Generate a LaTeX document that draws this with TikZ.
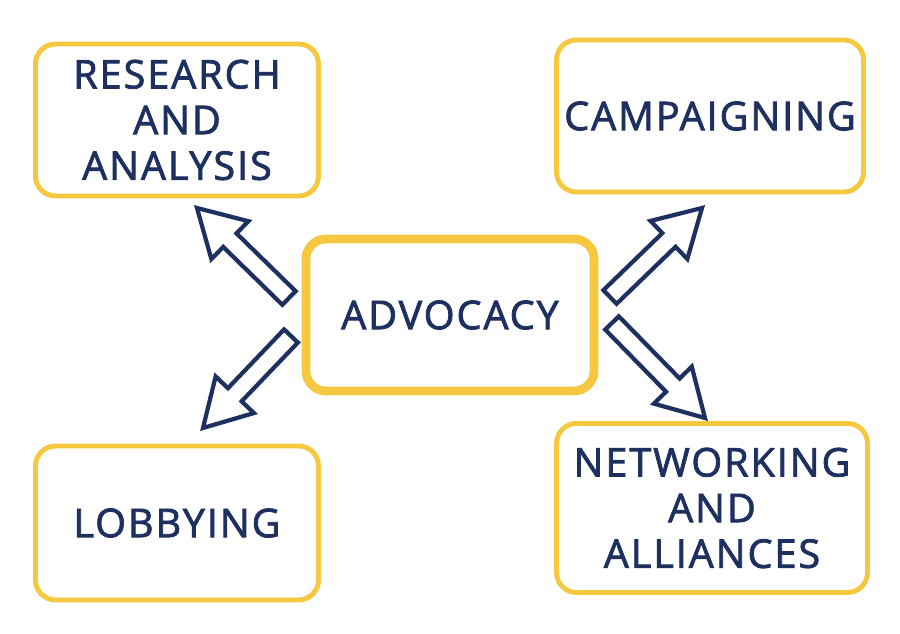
\documentclass[tikz,border=0pt]{standalone}
\usepackage{fontspec}
\setmainfont{Open Sans}[LetterSpace=5,FakeBold=2]
\usetikzlibrary{calc}
\definecolor{navy}{RGB}{30,48,96}
\definecolor{gold}{RGB}{246,200,64}
\tikzset{
box/.style={rectangle,draw=gold,line width=2.8pt,rounded corners=0.4cm,
  align=center,text=navy,font=\fontsize{22.5}{26}\selectfont,inner sep=0pt},
hub/.style={box,line width=5pt},
hollow/.style={draw=navy,line width=2.4pt,line join=miter,fill=white},
}
% hollow block arrow from #1 (tail) to #2 (tip)
\newcommand\hollowarrow[2]{%
  \coordinate (hb) at ($(#2)!0.92cm!(#1)$);
  \draw[hollow] ($(#1)!0.19cm!90:(#2)$) -- ($(hb)!0.19cm!-90:(#1)$)
    -- ($(hb)!0.53cm!-90:(#1)$) -- (#2) -- ($(hb)!0.53cm!90:(#1)$)
    -- ($(hb)!0.19cm!90:(#1)$) -- ($(#1)!0.19cm!-90:(#2)$) -- cycle;}

\begin{document}
\begin{tikzpicture}
	\useasboundingbox (0,0) rectangle (18,12.68);

	\node[hub,minimum width=5.76cm,minimum height=3.04cm] (adv) at (9,6.38) {ADVOCACY};
	\node[box,minimum width=5.66cm,minimum height=3.04cm] (res) at (3.54,10.28) {RESEARCH\\AND\\ANALYSIS};
	\node[box,minimum width=6.14cm,minimum height=3.04cm] (cam) at (14.2,10.36) {CAMPAIGNING};
	\node[box,minimum width=5.66cm,minimum height=3.08cm] (lob) at (3.54,2.22) {LOBBYING};
	\node[box,minimum width=6.22cm,minimum height=3.38cm] (net) at (14.24,2.52) {NETWORKING\\AND\\ALLIANCES};

	% arrow ends
	\coordinate (resT) at (5.78,6.72);
	\coordinate (resH) at (3.94,8.52);
	\coordinate (lobT) at (5.82,5.96);
	\coordinate (lobH) at (4.06,4.12);
	\coordinate (camT) at (12.2,6.74);
	\coordinate (camH) at (14.04,8.52);
	\coordinate (netT) at (12.24,6.22);
	\coordinate (netH) at (14.1,4.32);

	\hollowarrow{resT}{resH}
	\hollowarrow{lobT}{lobH}
	\hollowarrow{camT}{camH}
	\hollowarrow{netT}{netH}
\end{tikzpicture}
\end{document}
